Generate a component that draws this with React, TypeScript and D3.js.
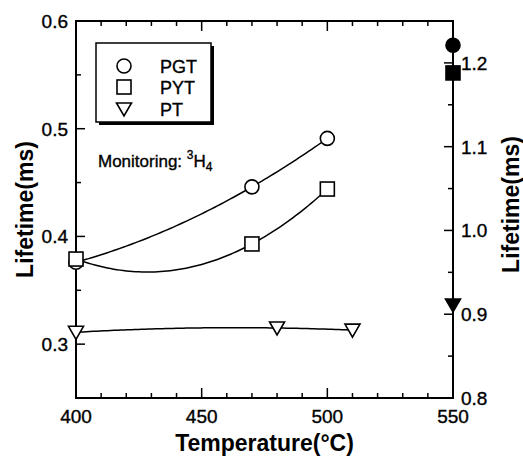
import React from "react";
import * as d3 from "d3";

const temps = [400, 470, 500];
const pgt = [0.376, 0.446, 0.491];
const pytTemps = [400, 470, 500];
const pyt = [0.379, 0.393, 0.444];
const ptTemps = [400, 480, 510];
const pt = [0.311, 0.315, 0.313];
const rightTemp = 550;
const rightValues = [1.221, 1.188, 0.911]; // PGT, PYT, PT
const legendLabels = ["PGT", "PYT", "PT"];
const xTicks = [400, 450, 500, 550];
const leftTicks = [0.3, 0.4, 0.5, 0.6];
const rightTicks = [0.8, 0.9, 1.0, 1.1, 1.2];

const W = 523, H = 457;
const FONT = "'Liberation Sans', Arial, Helvetica, sans-serif";

function lagrange(xs: number[], ys: number[]) {
  return (x: number) => {
    let s = 0;
    for (let i = 0; i < xs.length; i++) {
      let t = ys[i];
      for (let j = 0; j < xs.length; j++) if (j !== i) t *= (x - xs[j]) / (xs[i] - xs[j]);
      s += t;
    }
    return s;
  };
}

function Marker({ kind, x, y, filled }: { kind: number; x: number; y: number; filled?: boolean }) {
  const fill = filled ? "#000" : "#fff";
  if (kind === 0) return <circle cx={x} cy={y} r={7} fill={fill} stroke="#000" strokeWidth={1.6} />;
  if (kind === 1) return <rect x={x - 7} y={y - 7} width={14} height={14} fill={fill} stroke="#000" strokeWidth={1.6} />;
  return <path d={`M${x - 7.5},${y - 6} L${x + 7.5},${y - 6} L${x},${y + 7} Z`} fill={fill} stroke="#000" strokeWidth={1.6} strokeLinejoin="miter" />;
}

export default function App() {
  const x = d3.scaleLinear().domain([400, 550]).range([76, 453]);
  const yL = d3.scaleLinear().domain([0.25, 0.6]).range([398, 21]);
  const yR = d3.scaleLinear().domain([0.8, 1.25]).range([398, 21]);
  const [x0, x1] = x.range();
  const [yb, yt] = yL.range();

  const series = [
    { xs: temps, ys: pgt },
    { xs: pytTemps, ys: pyt },
    { xs: ptTemps, ys: pt },
  ];

  const line = d3.line<[number, number]>().x((d) => x(d[0])).y((d) => yL(d[1]));

  const xMinor = d3.range(400, 551, 10);
  const lMinor = d3.range(0.25, 0.601, 0.05);
  const rMinor = d3.range(0.8, 1.251, 0.05);
  const heavy = { stroke: "#000", strokeWidth: 0.35 };

  return (
    <svg width={W} height={H} style={{ position: "absolute", left: 0, top: 0, background: "#fff" }} fontFamily={FONT}>
      <rect width={W} height={H} fill="#fff" />
      {series.map((s, i) => {
        const f = lagrange(s.xs, s.ys);
        const lo = d3.min(s.xs)!, hi = d3.max(s.xs)!;
        const pts: [number, number][] = d3.range(0, 81).map((k) => {
          const t = lo + ((hi - lo) * k) / 80;
          return [t, f(t)];
        });
        return <path key={i} d={line(pts)!} fill="none" stroke="#000" strokeWidth={1.5} />;
      })}
      <rect x={x0} y={yt} width={x1 - x0} height={yb - yt} fill="none" stroke="#000" strokeWidth={2} />
      {xMinor.map((v) => {
        const major = Math.abs(v % 50) < 1e-6;
        const len = major ? 10 : 5;
        return (
          <g key={"x" + v}>
            <line x1={x(v)} x2={x(v)} y1={yb} y2={yb - len} stroke="#000" strokeWidth={1.5} />
            <line x1={x(v)} x2={x(v)} y1={yt} y2={yt + len} stroke="#000" strokeWidth={1.5} />
          </g>
        );
      })}
      {xTicks.map((v) => (
        <text key={"xl" + v} x={x(v)} y={423} textAnchor="middle" fontSize={19} {...heavy}>{v}</text>
      ))}
      {lMinor.map((v, i) => {
        const major = i % 2 === 1;
        return <line key={"l" + i} x1={x0} x2={x0 + (major ? 9 : 5)} y1={yL(v)} y2={yL(v)} stroke="#000" strokeWidth={1.5} />;
      })}
      {leftTicks.map((v) => (
        <text key={"ll" + v} x={68} y={yL(v) + 7} textAnchor="end" fontSize={19} {...heavy}>{v.toFixed(1)}</text>
      ))}
      {rMinor.map((v, i) => {
        const major = i % 2 === 0;
        return <line key={"r" + i} x1={x1} x2={x1 - (major ? 9 : 5)} y1={yR(v)} y2={yR(v)} stroke="#000" strokeWidth={1.5} />;
      })}
      {rightTicks.map((v) => (
        <text key={"rl" + v} x={461} y={yR(v) + 7} textAnchor="start" fontSize={19} {...heavy}>{v.toFixed(1)}</text>
      ))}
      {series.map((s, i) =>
        s.xs.map((t, j) => <Marker key={i + "-" + j} kind={i} x={x(t)} y={yL(s.ys[j])} />)
      )}
      {rightValues.map((v, i) => (
        <Marker key={"rv" + i} kind={i} x={x(rightTemp)} y={yR(v)} filled />
      ))}
      <rect x={99} y={46} width={115} height={79} fill="#000" />
      <rect x={96} y={43} width={115} height={79} fill="#fff" stroke="#000" strokeWidth={1.5} />
      {legendLabels.map((lab, i) => {
        const cy = [66, 87, 109][i];
        return (
          <g key={lab}>
            <Marker kind={i} x={124} y={cy} />
            <text x={160} y={cy + 6.5} fontSize={18} {...heavy}>{lab}</text>
          </g>
        );
      })}
      <text x={98} y={167} fontSize={17} {...heavy}>
        Monitoring: <tspan fontSize={12} dy={-8}>3</tspan>
        <tspan fontSize={17} dy={8}>H</tspan>
        <tspan fontSize={12} dy={4}>4</tspan>
      </text>
      <text x={(x0 + x1) / 2} y={451} textAnchor="middle" fontSize={23} fontWeight="bold">Temperature(°C)</text>
      <text transform={`translate(33,${(yt + yb) / 2}) rotate(-90)`} textAnchor="middle" fontSize={23} fontWeight="bold">Lifetime(ms)</text>
      <text transform={`translate(519,${(yt + yb) / 2 - 5}) rotate(-90)`} textAnchor="middle" fontSize={23} fontWeight="bold">Lifetime(ms)</text>
    </svg>
  );
}
